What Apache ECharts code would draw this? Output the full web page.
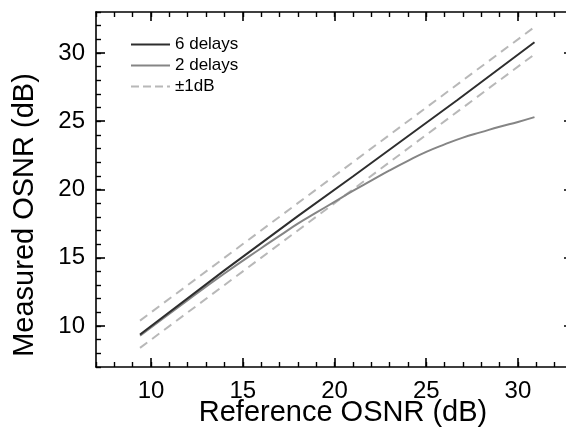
<!DOCTYPE html>
<html>
<head>
<meta charset="utf-8">
<script src="https://cdn.jsdelivr.net/npm/echarts@6/dist/echarts.min.js"></script>
<style>
html,body{margin:0;padding:0;background:#fff;}
#chart{width:566px;height:435px;}
</style>
</head>
<body>
<div id="chart"></div>
<script>
// ---- data ----
const refX6 = [9.4, 14, 18, 21, 26.7, 30.9];
const meas6 = [9.38, 14.08, 18.05, 20.95, 26.55, 30.78];
const refX2 = [9.4, 12, 14, 16, 17, 18, 19, 20, 21, 22, 23, 24, 25, 26, 27, 28, 29, 30, 30.9];
const meas2 = [9.3, 11.9, 13.85, 15.7, 16.6, 17.5, 18.3, 19.1, 19.9, 20.65, 21.4, 22.1, 22.75, 23.3, 23.8, 24.2, 24.6, 24.95, 25.3];
const bandX = [9.4, 31];
const bandUpper = [10.4, 32];
const bandLower = [8.4, 30];
const seriesNames = ['6 delays', '2 delays', '±1dB'];
const majorTicks = [10, 15, 20, 25, 30];
const axisMin = 7, axisMax = 33;
const xTitle = 'Reference OSNR (dB)';
const yTitle = 'Measured OSNR (dB)';

const pairs = (xs, ys) => xs.map((x, i) => [x, ys[i]]);
const FONT = '"Liberation Sans", Arial, sans-serif';
const gridBox = {left: 96, top: 12, width: 477, height: 355, outerBoundsMode: 'none', containLabel: false};

function minorAxis(gridIndex, position, showLine) {
  return {
    type: 'value', gridIndex, position, min: axisMin, max: axisMax, interval: 1,
    axisLine: {show: showLine, onZero: false, lineStyle: {color: '#000', width: 1.6}},
    axisTick: {show: true, inside: true, length: 5, lineStyle: {color: '#000', width: 1.4}},
    axisLabel: {show: false},
    splitLine: {show: false}
  };
}
function majorAxis(gridIndex, position, showLabel, margin) {
  return {
    type: 'value', gridIndex, position, min: axisMin, max: axisMax,
    axisLine: {show: false, onZero: false},
    axisTick: {show: true, inside: true, length: 9, customValues: majorTicks,
               lineStyle: {color: '#000', width: 1.6}},
    axisLabel: {show: showLabel, customValues: majorTicks, fontSize: 24,
                fontFamily: FONT, color: '#000', margin: margin},
    splitLine: {show: false}
  };
}

const solidIcon = 'path://M0,0h39v2h-39z';
const dashIcon = 'path://M0,0h8v2h-8zM12,0h8v2h-8zM24,0h8v2h-8zM36,0h3v2h-3z';

const chart = echarts.init(document.getElementById('chart'), null, {renderer: 'canvas'});
chart.setOption({
  animation: false,
  backgroundColor: '#fff',
  grid: [Object.assign({}, gridBox), Object.assign({}, gridBox)],
  xAxis: [
    minorAxis(0, 'bottom', true), minorAxis(0, 'top', true),
    majorAxis(1, 'bottom', true, 12), majorAxis(1, 'top', false, 8)
  ],
  yAxis: [
    minorAxis(0, 'left', true), minorAxis(0, 'right', true),
    majorAxis(1, 'left', true, 11), majorAxis(1, 'right', false, 8)
  ],
  legend: {
    orient: 'vertical', left: 131, top: 36, padding: 0,
    itemWidth: 39, itemHeight: 2, itemGap: 4,
    textStyle: {fontSize: 17, fontFamily: FONT, color: '#000'},
    data: [
      {name: seriesNames[0], icon: solidIcon},
      {name: seriesNames[1], icon: solidIcon},
      {name: seriesNames[2], icon: dashIcon}
    ]
  },
  graphic: [
    {type: 'text', x: 343, y: 413,
     style: {text: xTitle, font: '29px ' + FONT, fill: '#000', textAlign: 'center', textVerticalAlign: 'middle'}},
    {type: 'text', x: 25, y: 215, rotation: Math.PI / 2,
     style: {text: yTitle, font: '29px ' + FONT, fill: '#000', textAlign: 'center', textVerticalAlign: 'middle'}}
  ],
  series: [
    {name: seriesNames[0], type: 'line', xAxisIndex: 0, yAxisIndex: 0, data: pairs(refX6, meas6),
     symbol: 'none', lineStyle: {color: '#2e2e2e', width: 2}, itemStyle: {color: '#2e2e2e'}, z: 4},
    {name: seriesNames[1], type: 'line', xAxisIndex: 0, yAxisIndex: 0, data: pairs(refX2, meas2),
     smooth: true, symbol: 'none', lineStyle: {color: '#858585', width: 2}, itemStyle: {color: '#858585'}, z: 3},
    {name: seriesNames[2], type: 'line', xAxisIndex: 0, yAxisIndex: 0, data: pairs(bandX, bandUpper),
     symbol: 'none', lineStyle: {color: '#b8b8b8', width: 2, type: [9, 6]}, itemStyle: {color: '#b8b8b8'}, z: 2},
    {name: seriesNames[2], type: 'line', xAxisIndex: 0, yAxisIndex: 0, data: pairs(bandX, bandLower),
     symbol: 'none', lineStyle: {color: '#b8b8b8', width: 2, type: [9, 6]}, itemStyle: {color: '#b8b8b8'}, z: 2}
  ]
});
</script>
</body>
</html>
